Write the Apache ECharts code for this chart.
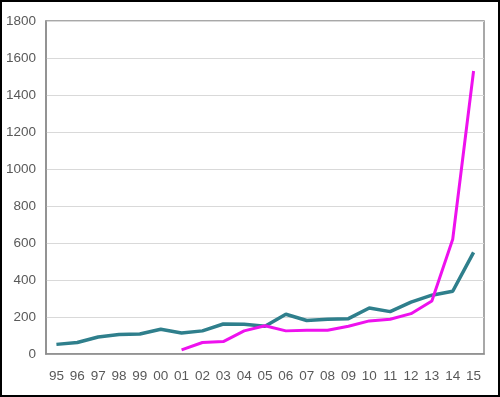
<!DOCTYPE html>
<html lang="en">
<head>
    <meta charset="UTF-8">
    <title>Chart</title>
    <script src="https://cdn.jsdelivr.net/npm/echarts@6/dist/echarts.min.js"></script>
    <style>
        body { margin: 0; background: #fff; }
    </style>
</head>
<body>
<div id="main" style="width: 500px;height:397px;"></div>
<script>
    var years = ['95', '96', '97', '98', '99', '00', '01', '02', '03', '04', '05',
        '06', '07', '08', '09', '10', '11', '12', '13', '14', '15'];
    var tealValues = [52, 62, 92, 105, 108, 134, 114, 125, 162, 161, 150,
        215, 181, 188, 191, 249, 229, 280, 318, 339, 549];
    var pinkValues = [null, null, null, null, null, null, 22, 62, 67, 125, 153,
        125, 128, 128, 150, 179, 188, 218, 287, 620, 1530];

    var labelFont = '"Liberation Sans", sans-serif';

    var myChart = echarts.init(document.getElementById('main'));
    myChart.setOption({
        animation: false,
        backgroundColor: '#fff',
        graphic: [{
            type: 'rect',
            shape: {x: 1, y: 1, width: 498, height: 395},
            style: {fill: 'none', stroke: '#000', lineWidth: 2},
            silent: true
        }],
        grid: {
            left: 46,
            top: 21,
            right: 16,
            bottom: 43,
            show: true,
            borderColor: '#8c8c8c',
            borderWidth: 1.5,
            backgroundColor: 'transparent'
        },
        xAxis: {
            type: 'category',
            data: years,
            boundaryGap: true,
            axisLine: {lineStyle: {color: '#8c8c8c', width: 1.5}},
            axisTick: {show: false},
            axisLabel: {
                color: '#595959',
                fontSize: 13.5,
                fontFamily: labelFont,
                margin: 15,
                interval: 0
            }
        },
        yAxis: {
            type: 'value',
            min: 0,
            max: 1800,
            interval: 200,
            axisLine: {show: true, lineStyle: {color: '#8c8c8c', width: 1.5}},
            axisTick: {show: false},
            splitLine: {lineStyle: {color: '#d9d9d9', width: 1}},
            axisLabel: {
                color: '#595959',
                fontSize: 13.5,
                fontFamily: labelFont,
                margin: 10,
                formatter: function (v) { return String(v); }
            }
        },
        series: [
            {
                name: 'teal',
                type: 'line',
                data: tealValues,
                symbol: 'none',
                lineStyle: {color: '#2f7f8c', width: 3.5},
                itemStyle: {color: '#2f7f8c'}
            },
            {
                name: 'pink',
                type: 'line',
                data: pinkValues,
                symbol: 'none',
                lineStyle: {color: '#ee11ee', width: 3},
                itemStyle: {color: '#ee11ee'}
            }
        ]
    });
</script>
</body>
</html>
